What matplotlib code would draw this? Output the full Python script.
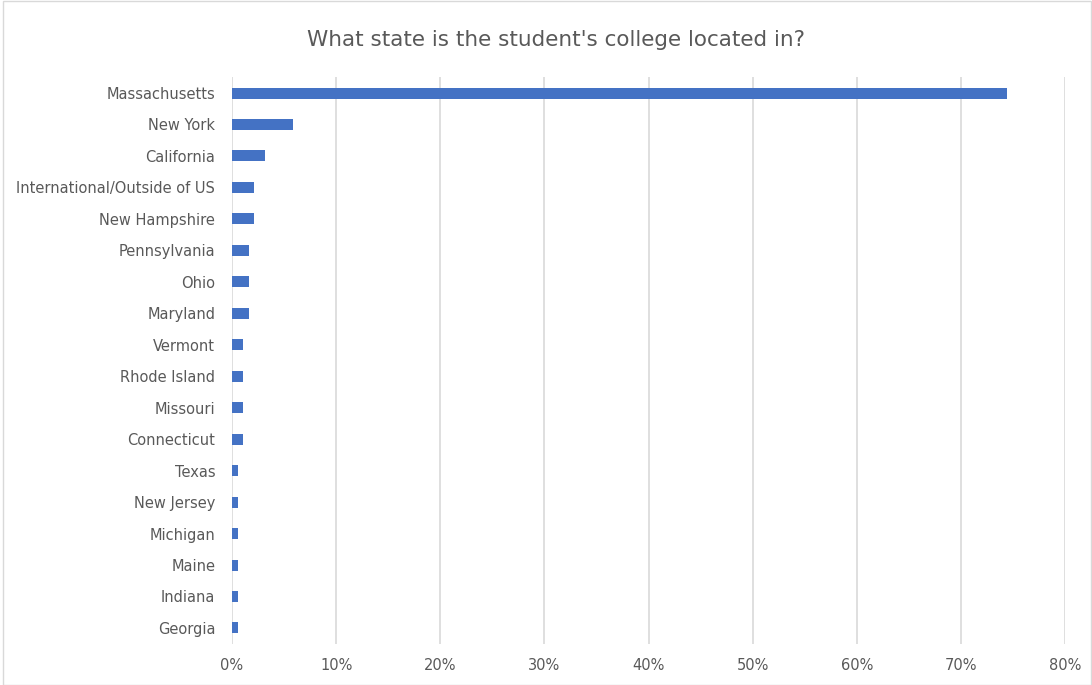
import matplotlib.pyplot as plt
from matplotlib.patches import Rectangle
from matplotlib.ticker import FuncFormatter

states = ['Massachusetts', 'New York', 'California', 'International/Outside of US',
          'New Hampshire', 'Pennsylvania', 'Ohio', 'Maryland', 'Vermont',
          'Rhode Island', 'Missouri', 'Connecticut', 'Texas', 'New Jersey',
          'Michigan', 'Maine', 'Indiana', 'Georgia']
share = [0.7447, 0.0585, 0.0319, 0.0213, 0.0213, 0.0160, 0.0160, 0.0160, 0.0106,
         0.0106, 0.0106, 0.0106, 0.0053, 0.0053, 0.0053, 0.0053, 0.0053, 0.0053]

fig = plt.figure(figsize=(10.92, 6.85), dpi=100)
ax = fig.add_axes([232 / 1092, 1 - 643.7 / 685, (1065 - 232) / 1092, (643.7 - 77.3) / 685])

pos = list(range(len(states)))
ax.barh(pos, share, height=0.35, color='#4472C4', zorder=3)
ax.set_yticks(pos)
ax.set_yticklabels(states)
ax.set_ylim(len(states) - 0.5, -0.5)
ax.set_xlim(0, 0.8)
ax.set_xticks([i / 10 for i in range(9)])
ax.xaxis.set_major_formatter(FuncFormatter(lambda v, p: f'{v * 100:.0f}%'))
ax.grid(axis='x', color='#d9d9d9', linewidth=1.2, zorder=0)
for s in ax.spines.values():
    s.set_visible(False)
ax.tick_params(length=0, labelsize=10.5, colors='#595959')
ax.tick_params(axis='y', pad=12)
ax.tick_params(axis='x', pad=10)

fig.text(0.509, 1 - 40 / 685, "What state is the student's college located in?",
         ha='center', va='center', fontsize=15.5, color='#595959')

fig.patches.append(Rectangle((0.003, 0.0), 0.996, 0.998, transform=fig.transFigure,
                             fill=False, edgecolor='#d9d9d9', linewidth=1))

fig.savefig('out.png', dpi=100)
